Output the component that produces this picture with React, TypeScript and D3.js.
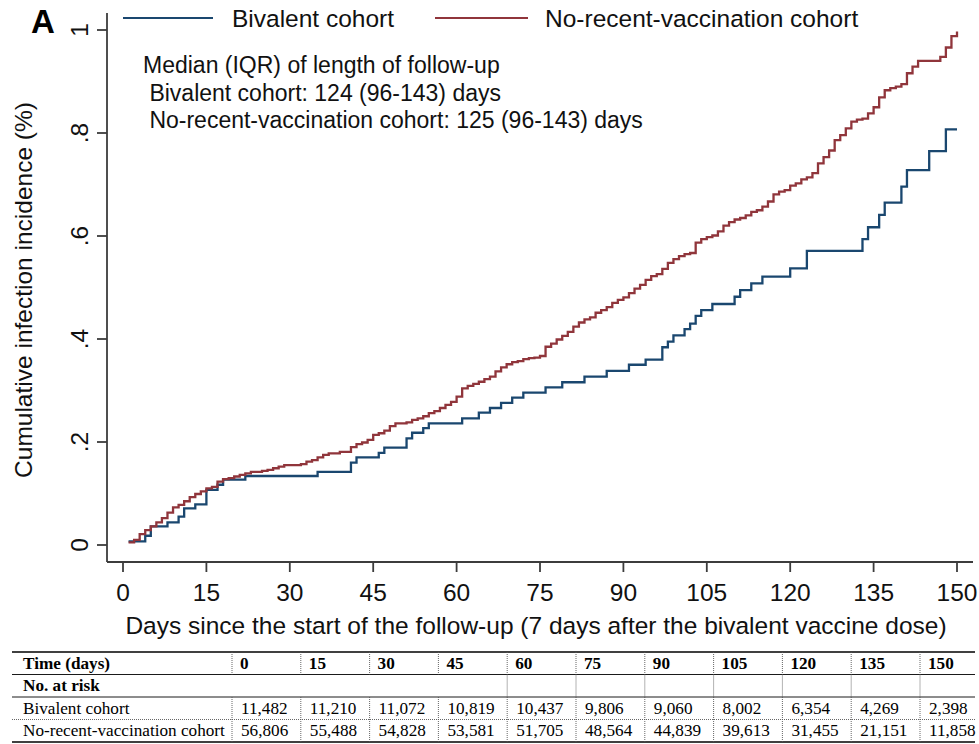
import React from "react";
import * as d3 from "d3";

const bivalentDays = [1, 4, 5, 8, 10, 11, 13, 15, 17, 18, 22, 35, 41, 42, 46, 47, 51, 52, 54, 55, 61, 64, 66, 68, 70, 72, 76, 79, 83, 87, 91, 94, 97, 98, 99, 101, 102, 103, 104, 106, 110, 111, 113, 115, 120, 123, 133, 134, 136, 137, 140, 141, 145, 148, 150];
const bivalentValues = [0.007, 0.018, 0.036, 0.044, 0.055, 0.071, 0.079, 0.107, 0.117, 0.127, 0.134, 0.142, 0.16, 0.17, 0.179, 0.189, 0.207, 0.218, 0.227, 0.236, 0.246, 0.257, 0.266, 0.276, 0.286, 0.296, 0.306, 0.316, 0.327, 0.338, 0.35, 0.36, 0.384, 0.395, 0.407, 0.419, 0.43, 0.445, 0.456, 0.468, 0.482, 0.495, 0.508, 0.521, 0.537, 0.571, 0.594, 0.617, 0.641, 0.665, 0.696, 0.728, 0.765, 0.807, 0.807];

const noRecentDays = [1, 2, 3, 4, 5, 6, 7, 8, 9, 10, 11, 12, 13, 14, 15, 16, 17, 18, 19, 20, 21, 22, 23, 25, 26, 27, 28, 29, 32, 33, 34, 35, 36, 37, 39, 41, 42, 43, 44, 45, 46, 47, 48, 49, 51, 52, 53, 54, 55, 56, 57, 58, 59, 60, 61, 62, 63, 64, 65, 66, 67, 68, 69, 70, 71, 72, 73, 74, 75, 76, 77, 78, 79, 80, 81, 82, 83, 84, 85, 86, 87, 88, 89, 90, 91, 92, 93, 94, 95, 96, 97, 98, 99, 100, 101, 102, 103, 104, 105, 106, 107, 108, 109, 110, 111, 112, 113, 114, 115, 116, 117, 118, 119, 120, 121, 122, 123, 124, 125, 126, 127, 128, 129, 130, 131, 132, 133, 134, 135, 136, 137, 138, 139, 140, 141, 142, 143, 147, 148, 149, 150];
const noRecentValues = [0.005, 0.01, 0.021, 0.029, 0.036, 0.044, 0.052, 0.063, 0.073, 0.078, 0.085, 0.093, 0.099, 0.104, 0.11, 0.113, 0.123, 0.128, 0.13, 0.133, 0.136, 0.139, 0.142, 0.144, 0.146, 0.149, 0.152, 0.155, 0.157, 0.162, 0.165, 0.17, 0.175, 0.178, 0.181, 0.19, 0.196, 0.199, 0.204, 0.214, 0.217, 0.222, 0.231, 0.236, 0.238, 0.243, 0.246, 0.25, 0.256, 0.26, 0.266, 0.272, 0.278, 0.288, 0.304, 0.309, 0.313, 0.317, 0.322, 0.327, 0.337, 0.345, 0.351, 0.355, 0.357, 0.361, 0.363, 0.364, 0.367, 0.385, 0.391, 0.399, 0.406, 0.414, 0.424, 0.432, 0.438, 0.442, 0.451, 0.456, 0.462, 0.47, 0.476, 0.481, 0.489, 0.498, 0.505, 0.515, 0.522, 0.526, 0.536, 0.548, 0.555, 0.561, 0.565, 0.567, 0.587, 0.594, 0.598, 0.601, 0.609, 0.62, 0.627, 0.632, 0.635, 0.64, 0.647, 0.65, 0.657, 0.667, 0.681, 0.686, 0.689, 0.698, 0.702, 0.71, 0.714, 0.722, 0.741, 0.753, 0.766, 0.786, 0.796, 0.809, 0.822, 0.826, 0.828, 0.838, 0.85, 0.869, 0.883, 0.887, 0.89, 0.895, 0.916, 0.929, 0.94, 0.948, 0.966, 0.988, 0.997];

const xTicks = [0, 15, 30, 45, 60, 75, 90, 105, 120, 135, 150];
const yTicks = [0, 0.2, 0.4, 0.6, 0.8, 1];
const yTickLabels = ["0", ".2", ".4", ".6", ".8", "1"];

const seriesNames = ["Bivalent cohort", "No-recent-vaccination cohort"];
const annotationLines = [
  "Median (IQR) of length of follow-up",
  " Bivalent cohort: 124 (96-143) days",
  " No-recent-vaccination cohort: 125 (96-143) days",
];

const tableTimes = ["0", "15", "30", "45", "60", "75", "90", "105", "120", "135", "150"];
const bivalentAtRisk = ["11,482", "11,210", "11,072", "10,819", "10,437", "9,806", "9,060", "8,002", "6,354", "4,269", "2,398"];
const noRecentAtRisk = ["56,806", "55,488", "54,828", "53,581", "51,705", "48,564", "44,839", "39,613", "31,455", "21,151", "11,858"];

const BLUE = "#1a476f";
const RED = "#90353b";
const AXIS = "#3c3c3c";
const SANS = "'Liberation Sans', Arial, sans-serif";
const SERIF = "'Liberation Serif', 'Times New Roman', serif";

export default function App() {
  const W = 979;
  const H = 744;
  const x = d3.scaleLinear().domain([0, 150]).range([123, 957]);
  const y = d3.scaleLinear().domain([0, 1]).range([545, 30]);

  const line = d3
    .line<[number, number]>()
    .x((d) => x(d[0]))
    .y((d) => y(d[1]))
    .curve(d3.curveStepAfter);

  const bivPts = bivalentDays.map((d, i) => [d, bivalentValues[i]] as [number, number]);
  const nrPts = noRecentDays.map((d, i) => [d, noRecentValues[i]] as [number, number]);

  const axisX = 107;
  const axisY = 562;

  const colX = d3.scaleLinear().domain([0, 10]).range([232, 920]);
  const tableLeft = 12;
  const tableRight = 975;
  const rowTop = d3.scaleLinear().domain([0, 4]).range([652, 742]);
  const baseOff = 16.5;

  return (
    <div style={{ position: "absolute", left: 0, top: 0 }}>
      <svg width={W} height={H} style={{ display: "block", background: "#fff" }}>
        <rect x={0} y={0} width={W} height={H} fill="#fff" />
        <text x={31} y={33} fontFamily={SANS} fontWeight="bold" fontSize={33} fill="#000">
          A
        </text>

        <line x1={123} x2={213} y1={18} y2={18} stroke={BLUE} strokeWidth={2} />
        <text x={232} y={27} fontFamily={SANS} fontSize={24.5} fill="#111">
          {seriesNames[0]}
        </text>
        <line x1={435} x2={528} y1={18} y2={18} stroke={RED} strokeWidth={2} />
        <text x={545} y={27} fontFamily={SANS} fontSize={24.5} fill="#111">
          {seriesNames[1]}
        </text>

        {annotationLines.map((t, i) => (
          <text
            key={i}
            x={143}
            y={73 + i * 27.5}
            fontFamily={SANS}
            fontSize={23}
            fill="#111"
            style={{ whiteSpace: "pre" }}
            xmlSpace="preserve"
          >
            {t}
          </text>
        ))}

        <line x1={axisX} x2={axisX} y1={13} y2={axisY} stroke={AXIS} strokeWidth={1.8} />
        {yTicks.map((t, i) => (
          <g key={t}>
            <line x1={axisX - 10} x2={axisX} y1={y(t)} y2={y(t)} stroke={AXIS} strokeWidth={1.8} />
            <text
              transform={`translate(88, ${y(t)}) rotate(-90)`}
              textAnchor="middle"
              fontFamily={SANS}
              fontSize={24.5}
              fill="#111"
            >
              {yTickLabels[i]}
            </text>
          </g>
        ))}
        <text
          transform={`translate(32, 290) rotate(-90)`}
          textAnchor="middle"
          fontFamily={SANS}
          fontSize={24.5}
          fill="#111"
        >
          Cumulative infection incidence (%)
        </text>

        <line x1={axisX} x2={973} y1={axisY} y2={axisY} stroke={AXIS} strokeWidth={1.8} />
        {xTicks.map((t) => (
          <g key={t}>
            <line x1={x(t)} x2={x(t)} y1={axisY} y2={axisY + 10} stroke={AXIS} strokeWidth={1.8} />
            <text x={x(t)} y={601} textAnchor="middle" fontFamily={SANS} fontSize={24.5} fill="#111">
              {t}
            </text>
          </g>
        ))}
        <text x={536} y={634} textAnchor="middle" fontFamily={SANS} fontSize={24.5} fill="#111">
          Days since the start of the follow-up (7 days after the bivalent vaccine dose)
        </text>

        <path d={line(bivPts) || ""} fill="none" stroke={BLUE} strokeWidth={2.3} />
        <path d={line(nrPts) || ""} fill="none" stroke={RED} strokeWidth={2.3} />

        <g fontFamily={SERIF} fontSize={17.2} fill="#000">
          <line x1={tableLeft} x2={tableRight} y1={rowTop(0)} y2={rowTop(0)} stroke="#000" strokeWidth={1.6} />
          <line x1={tableLeft} x2={tableRight} y1={rowTop(1)} y2={rowTop(1)} stroke="#000" strokeWidth={0.9} />
          <line x1={tableLeft} x2={tableRight} y1={rowTop(2)} y2={rowTop(2)} stroke="#000" strokeWidth={0.9} />
          <line x1={tableLeft} x2={tableRight} y1={rowTop(3)} y2={rowTop(3)} stroke="#555" strokeWidth={0.9} strokeDasharray="1,1" />
          <line x1={tableLeft} x2={tableRight} y1={rowTop(4)} y2={rowTop(4)} stroke="#000" strokeWidth={1.6} />
          {tableTimes.map((_, i) => (
            <g key={i}>
              <line x1={colX(i)} x2={colX(i)} y1={rowTop(0)} y2={rowTop(1)} stroke="#555" strokeWidth={0.9} strokeDasharray="1,1" />
              {i >= 4 && (
                <line x1={colX(i)} x2={colX(i)} y1={rowTop(1)} y2={rowTop(2)} stroke="#555" strokeWidth={0.9} strokeDasharray="1,1" />
              )}
              <line x1={colX(i)} x2={colX(i)} y1={rowTop(2)} y2={rowTop(4)} stroke="#555" strokeWidth={0.9} strokeDasharray="1,1" />
            </g>
          ))}
          <text x={23} y={rowTop(0) + baseOff} fontWeight="bold">Time (days)</text>
          <text x={23} y={rowTop(1) + baseOff} fontWeight="bold">No. at risk</text>
          <text x={23} y={rowTop(2) + baseOff}>{seriesNames[0]}</text>
          <text x={23} y={rowTop(3) + baseOff}>{seriesNames[1]}</text>
          {tableTimes.map((t, i) => (
            <g key={t}>
              <text x={colX(i) + 8} y={rowTop(0) + baseOff} fontWeight="bold">{t}</text>
              <text x={colX(i) + 9} y={rowTop(2) + baseOff}>{bivalentAtRisk[i]}</text>
              <text x={colX(i) + 9} y={rowTop(3) + baseOff}>{noRecentAtRisk[i]}</text>
            </g>
          ))}
        </g>
      </svg>
    </div>
  );
}
